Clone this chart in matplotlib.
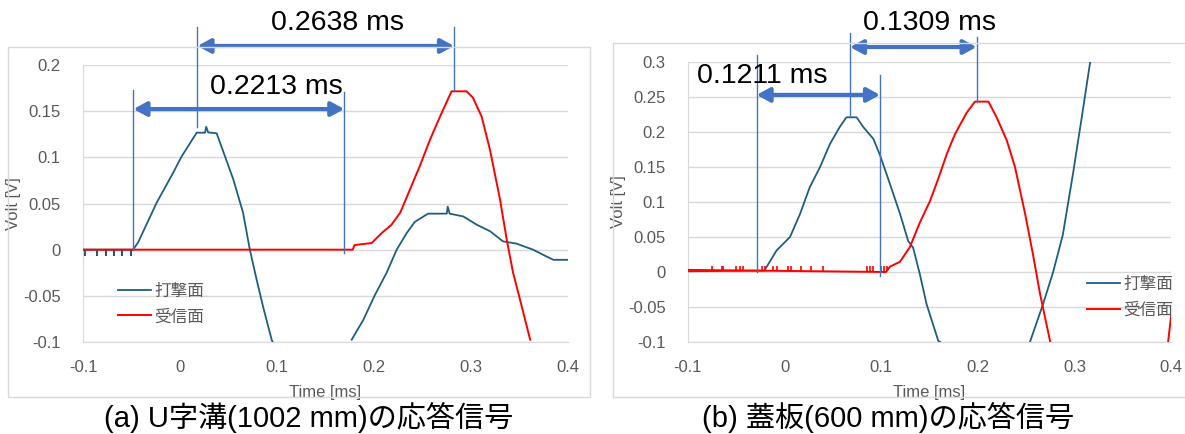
import numpy as np
import matplotlib
matplotlib.use('Agg')
import matplotlib.pyplot as plt
from matplotlib.patches import Rectangle
from matplotlib.ticker import FuncFormatter, MultipleLocator

plt.rcParams['font.family'] = ['Liberation Sans', 'Noto Sans CJK JP']
plt.rcParams['axes.unicode_minus'] = False

nan = np.nan

# (a) U-shaped gutter, 1002 mm
blue_a_t = [-0.1, -0.05, -0.0485, -0.0433, -0.024, -0.0072, 0.0017, 0.0172, 0.0258, 0.027,
            0.029, 0.0378, 0.044, 0.055, 0.065, 0.072, 0.079, 0.0857, 0.0945, 0.0955, nan,
            0.177, 0.189, 0.201, 0.213, 0.2234, 0.2337, 0.242, 0.2557, 0.275, 0.276, 0.278,
            0.292, 0.306, 0.3196, 0.333, 0.347, 0.364, 0.374, 0.385, 0.4]
blue_a_v = [0, 0, 0, 0.0076, 0.051, 0.083, 0.101, 0.1267, 0.1267, 0.133,
            0.127, 0.126, 0.108, 0.076, 0.040, 0, -0.0325, -0.062, -0.0975, -0.1, nan,
            -0.0975, -0.076, -0.049, -0.025, 0, 0.018, 0.030, 0.039, 0.039, 0.0466, 0.039,
            0.036, 0.027, 0.020, 0.009, 0.0065, 0, -0.0054, -0.011, -0.011]
blue_a_ticks = [-0.098, -0.086, -0.076, -0.068, -0.06, -0.051]

red_a_t = [-0.1, 0.178, 0.18, 0.1976, 0.208, 0.218, 0.227, 0.237, 0.247, 0.2577, 0.268,
           0.2784, 0.28, 0.2955, 0.302, 0.311, 0.3196, 0.33, 0.3368, 0.3434, 0.3505, 0.361]
red_a_v = [0, 0, 0.005, 0.0072, 0.018, 0.027, 0.040, 0.065, 0.090, 0.119, 0.144,
           0.168, 0.1715, 0.1715, 0.1646, 0.144, 0.108, 0.054, 0.011, -0.025, -0.054, -0.0975]

# (b) cover slab, 600 mm
blue_b_t = [-0.1, -0.021, -0.0185, -0.0082, 0.0056, 0.016, 0.026, 0.0367, 0.047, 0.057,
            0.064, 0.0745, 0.0815, 0.092, 0.099, 0.109, 0.1195, 0.128, 0.133, 0.140, 0.147,
            0.159, 0.161, nan, 0.254, 0.2675, 0.278, 0.288, 0.2985, 0.3075, 0.316, 0.318]
blue_b_v = [0.001, 0.002, 0.0076, 0.031, 0.050, 0.083, 0.121, 0.150, 0.183, 0.207,
            0.221, 0.221, 0.207, 0.19, 0.166, 0.126, 0.083, 0.044, 0.035, -0.003, -0.046,
            -0.098, -0.1, nan, -0.1, -0.046, 0.0, 0.053, 0.14, 0.22, 0.297, 0.31]

red_b_t = [-0.1, 0.105, 0.109, 0.1195, 0.1298, 0.140, 0.1505, 0.159, 0.168, 0.1764, 0.1885,
           0.197, 0.211, 0.2195, 0.23, 0.2385, 0.249, 0.257, 0.2644, 0.275, nan, 0.397, 0.4]
red_b_v = [0.003, 0.0, 0.0076, 0.0147, 0.036, 0.0705, 0.1014, 0.133, 0.169, 0.197, 0.2276,
           0.2434, 0.2434, 0.221, 0.188, 0.150, 0.083, 0.026, -0.031, -0.1, nan, -0.1, -0.064]
red_b_spikes = [-0.0755, -0.065, -0.0637, -0.05, -0.046, -0.043, -0.0237, -0.020, -0.012,
                -0.0082, 0.0035, 0.007, 0.0173, 0.0277, 0.0398, 0.085, 0.088, 0.0915,
                0.1, 0.103, 0.106]

# measured delays: vertical marker lines (x, y_bottom, y_top) and arrows (x0, x1, y)
lines_a = [(0.018, 0.133, 0.241), (0.2825, 0.173, 0.241), (-0.048, 0.0, 0.173), (0.1694, -0.0035, 0.171)]
arrows_a = [(0.018, 0.2825, 0.2206), (-0.048, 0.1694, 0.1523)]
labels_a = ['0.2638 ms', '0.2213 ms']
label_pos_a = [(0.162, 0.2455), (0.099, 0.176)]

lines_b = [(-0.029, 0.0, 0.31), (0.0988, -0.0057, 0.281), (0.0677, 0.2219, 0.341), (0.1988, 0.2433, 0.336)]
arrows_b = [(-0.029, 0.0988, 0.253), (0.0677, 0.1988, 0.3214)]
labels_b = ['0.1211 ms', '0.1309 ms']
label_pos_b = [(-0.0234, 0.28), (0.1495, 0.3557)]

legend_names = ['打撃面', '受信面']
captions = ['(a) U字溝(1002 mm)の応答信号', '(b) 蓋板(600 mm)の応答信号']

BLUE = '#1f5e80'
RED = '#ff0000'
ARROW = '#4472c4'
GRID = '#d9d9d9'
TXT = '#595959'

W, H = 1185, 434
fig = plt.figure(figsize=(W / 100, H / 100), dpi=100)

# chart frames
fig.patches.append(Rectangle((8 / W, 1 - 397 / H), 582 / W, 350 / H, transform=fig.transFigure,
                             fill=False, edgecolor=GRID, lw=1))
fig.patches.append(Rectangle((613 / W, 1 - 397 / H), 600 / W, 354 / H, transform=fig.transFigure,
                             fill=False, edgecolor=GRID, lw=1))

ax1 = fig.add_axes([83 / W, 1 - 342 / H, 485 / W, 277 / H])
ax2 = fig.add_axes([688 / W, 1 - 342 / H, 483 / W, 280 / H])


def fmt(v, pos):
    s = f'{v:.2f}'.rstrip('0').rstrip('.')
    return '0' if s in ('-0', '0') else s


def style(ax, ymin, ymax):
    ax.set_xlim(-0.1, 0.4)
    ax.set_ylim(ymin, ymax)
    ax.xaxis.set_major_locator(MultipleLocator(0.1))
    ax.yaxis.set_major_locator(MultipleLocator(0.05))
    ax.xaxis.set_major_formatter(FuncFormatter(fmt))
    ax.yaxis.set_major_formatter(FuncFormatter(fmt))
    ax.tick_params(length=0, labelsize=12, labelcolor=TXT)
    ax.tick_params(axis='y', pad=16)
    ax.tick_params(axis='x', pad=13)
    ax.grid(axis='y', color=GRID, lw=1)
    ax.set_axisbelow(True)
    for s in ['top', 'right']:
        ax.spines[s].set_visible(False)
    for s in ['left', 'bottom']:
        ax.spines[s].set_color(GRID)
    ax.set_xlabel('Time [ms]', fontsize=12, color=TXT)
    ax.set_ylabel('Volt [V]', fontsize=12, color=TXT)
    ax.xaxis.set_label_coords(0.5, -0.155)
    ax.yaxis.set_label_coords(-0.128, 0.5)


def annotate(ax, lines, arrows, labels, label_pos):
    for x, y0, y1 in lines:
        ax.plot([x, x], [y0, y1], color=ARROW, lw=1, clip_on=False, zorder=4)
    for (x0, x1, y), lab, (tx, ty) in zip(arrows, labels, label_pos):
        ax.annotate('', xy=(x1, y), xytext=(x0, y), annotation_clip=False,
                    arrowprops=dict(arrowstyle='<|-|>,head_length=0.55,head_width=0.3',
                                    color=ARROW, lw=3, shrinkA=0, shrinkB=0,
                                    mutation_scale=14), zorder=5)
        ax.text(tx, ty, lab, fontsize=20.5, ha='center', va='center', color='black',
                clip_on=False, zorder=6)


# panel (a)
style(ax1, -0.1, 0.2)
ax1.plot(blue_a_t, blue_a_v, color=BLUE, lw=1.3, label=legend_names[0], zorder=3)
ax1.vlines(blue_a_ticks, -0.007, 0, color=BLUE, lw=1.5, zorder=3)
ax1.plot(red_a_t, red_a_v, color=RED, lw=1.4, label=legend_names[1], zorder=3)
annotate(ax1, lines_a, arrows_a, labels_a, label_pos_a)
ax1.legend(loc='center left', bbox_to_anchor=(0.072, 0.137), frameon=False, fontsize=12,
           labelcolor=TXT, handlelength=2.0, handletextpad=0.2, labelspacing=0.6,
           borderpad=0, borderaxespad=0)

# panel (b)
style(ax2, -0.1, 0.3)
ax2.plot(blue_b_t, blue_b_v, color=BLUE, lw=1.3, label=legend_names[0], zorder=3)
ax2.plot(red_b_t, red_b_v, color=RED, lw=1.4, label=legend_names[1], zorder=3)
ax2.vlines(red_b_spikes, 0.001, 0.009, color=RED, lw=1.2, zorder=3)
annotate(ax2, lines_b, arrows_b, labels_b, label_pos_b)
ax2.legend(loc='center left', bbox_to_anchor=(0.826, 0.159), frameon=False, fontsize=12,
           labelcolor=TXT, handlelength=2.0, handletextpad=0.2, labelspacing=0.6,
           borderpad=0, borderaxespad=0)

fig.text(309 / W, 1 - 418 / H, captions[0], fontsize=21, ha='center', va='center')
fig.text(888 / W, 1 - 418 / H, captions[1], fontsize=21, ha='center', va='center')

fig.savefig('out.png', dpi=100)
